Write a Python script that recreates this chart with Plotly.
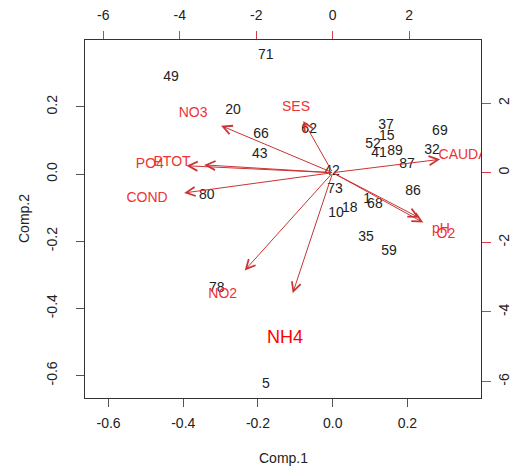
import plotly.graph_objects as go

# observation scores (Comp.1, Comp.2)
obs_labels = ["71", "49", "20", "66", "62", "43", "37", "15", "69", "52", "89", "41", "32",
              "87", "42", "73", "86", "1", "68", "18", "10", "35", "59", "80", "78", "5"]
comp1 = [-0.179, -0.433, -0.267, -0.192, -0.063, -0.195, 0.143, 0.145, 0.287, 0.108, 0.167, 0.124, 0.266,
         0.199, -0.002, 0.006, 0.215, 0.092, 0.113, 0.046, 0.009, 0.089, 0.151, -0.337, -0.310, -0.179]
comp2 = [0.354, 0.286, 0.190, 0.119, 0.134, 0.057, 0.143, 0.113, 0.128, 0.089, 0.068, 0.060, 0.071,
         0.027, 0.006, -0.045, -0.051, -0.077, -0.092, -0.104, -0.119, -0.188, -0.232, -0.063, -0.342, -0.628]

# variable loadings (secondary axes)
var_names = ["SES", "NO3", "PTOT", "PO4", "COND", "NO2", "NH4", "CAUDAL", "pH", "O2"]
load1 = [-0.96, -3.65, -4.20, -4.78, -4.855, -2.876, -1.306, 3.51, 2.83, 2.96]
load2 = [1.86, 1.69, 0.28, 0.25, -0.727, -3.51, -4.33, 0.48, -1.62, -1.79]
# label positions (NH4 label placed separately)
lab1 = [-0.96, -3.65, -4.20, -4.78, -4.855, -2.876, -1.247, 3.51, 2.83, 2.96]
lab2 = [1.86, 1.69, 0.28, 0.25, -0.727, -3.51, -4.76, 0.48, -1.62, -1.79]
arrow_scale = 0.8

x_ticks = [-0.6, -0.4, -0.2, 0.0, 0.2]
y_ticks = [-0.6, -0.4, -0.2, 0.0, 0.2]
x2_ticks = [-6, -4, -2, 0, 2]
y2_ticks = [-6, -4, -2, 0, 2]

FONT = "Liberation Sans, Arial, sans-serif"
LAB_RED = "#EE3333"
ARROW_RED = "#CC3333"
TICK_RED = "#D0404A"

fig = go.Figure()

fig.add_trace(go.Scatter(
    x=comp1, y=comp2, text=obs_labels, mode="text",
    textfont=dict(family=FONT, size=14, color="#222222"),
    cliponaxis=True, showlegend=False, hoverinfo="skip"))

colors = ["#FF0000" if n == "NH4" else LAB_RED for n in var_names]
sizes = [18 if n == "NH4" else 14 for n in var_names]
fig.add_trace(go.Scatter(
    x=lab1, y=lab2, text=var_names, mode="text",
    textfont=dict(family=FONT, size=sizes, color=colors),
    xaxis="x2", yaxis="y2",
    cliponaxis=True, showlegend=False, hoverinfo="skip"))

anns = []
for vx, vy in zip(load1, load2):
    anns.append(dict(
        x=vx * arrow_scale, y=vy * arrow_scale, ax=0, ay=0,
        xref="x2", yref="y2", axref="x2", ayref="y2",
        text="", showarrow=True, arrowhead=5, arrowsize=1.8,
        arrowwidth=1, arrowcolor=ARROW_RED, standoff=0, startstandoff=0))

anns.append(dict(x=0.5, y=-0.1676, xref="paper", yref="paper", text="Comp.1",
                 xanchor="center", yanchor="middle",
                 showarrow=False, font=dict(family=FONT, size=14, color="#222222")))
anns.append(dict(x=-0.154, y=0.5, xref="paper", yref="paper", text="Comp.2",
                 xanchor="center", yanchor="middle",
                 textangle=-90, showarrow=False, font=dict(family=FONT, size=14, color="#222222")))

tickfont = dict(family=FONT, size=14, color="#222222")

fig.update_layout(
    width=516, height=468,
    margin=dict(l=85, r=35, t=40, b=70, autoexpand=False),
    paper_bgcolor="white", plot_bgcolor="white",
    annotations=anns,
    xaxis=dict(range=[-0.663, 0.397], tickvals=x_ticks,
               ticktext=["%.1f" % v for v in x_ticks], automargin=False,
               showgrid=False, zeroline=False, showline=True, linecolor="#333333",
               linewidth=1, mirror=True, ticks="outside", ticklen=8, tickcolor="#555555",
               tickfont=tickfont, ticklabelstandoff=4),
    yaxis=dict(range=[-0.667, 0.399], tickvals=y_ticks,
               ticktext=["%.1f" % v for v in y_ticks], automargin=False,
               showgrid=False, zeroline=False, showline=True, linecolor="#333333",
               linewidth=1, mirror=True, ticks="outside", ticklen=8, tickcolor="#555555",
               tickfont=tickfont, tickangle=-90, ticklabelstandoff=13),
    xaxis2=dict(range=[-6.476, 3.877], overlaying="x", side="top", anchor="y",
                tickvals=x2_ticks, ticktext=[str(v) for v in x2_ticks], automargin=False,
                showgrid=False, zeroline=False, showline=False,
                ticks="outside", ticklen=8, tickcolor=TICK_RED,
                tickfont=tickfont, ticklabelstandoff=5),
    yaxis2=dict(range=[-6.474, 3.813], overlaying="y", side="right", anchor="x",
                tickvals=y2_ticks, ticktext=[str(v) for v in y2_ticks], automargin=False,
                showgrid=False, zeroline=False, showline=False,
                ticks="outside", ticklen=9, tickcolor=TICK_RED,
                tickfont=tickfont, tickangle=-90, ticklabelstandoff=1),
)

fig.write_html("out.html", config={"displayModeBar": False},
               post_script="document.body.style.margin='0px';")
